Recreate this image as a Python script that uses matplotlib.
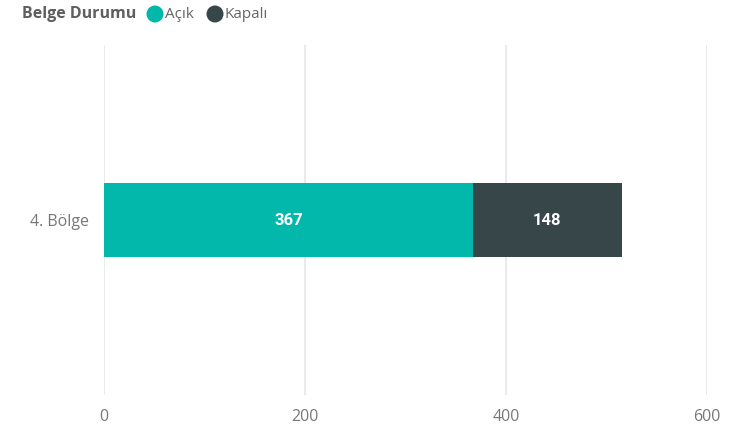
import matplotlib.pyplot as plt
from matplotlib.patches import Ellipse

# Belge durumu verisi
kategoriler = ["4. Bölge"]
acik = [367]
kapali = [148]
seriler = ["Açık", "Kapalı"]
renkler = ["#01B8AA", "#374649"]
x_ticks = [0, 200, 400, 600]

plt.rcParams['font.family'] = ['Open Sans', 'DejaVu Sans']

W, H = 739, 426
fig = plt.figure(figsize=(W / 100, H / 100), dpi=100)
ax = fig.add_axes([104 / W, 31 / H, 603 / W, 350 / H])

y = list(range(len(kategoriler)))
b1 = ax.barh(y, acik, height=0.21, color=renkler[0])
b2 = ax.barh(y, kapali, left=acik, height=0.21, color=renkler[1])

for bars, vals, lefts in [(b1, acik, [0] * len(acik)), (b2, kapali, acik)]:
    for rect, v, l in zip(bars, vals, lefts):
        ax.text(l + v / 2, rect.get_y() + rect.get_height() / 2, str(v),
                ha='center', va='center', color='white', fontsize=12,
                fontweight='bold', family=['Roboto', 'DejaVu Sans'])

ax.set_xlim(0, 600)
ax.set_ylim(-0.5, 0.5)
ax.set_xticks(x_ticks)
ax.set_yticks(y)
ax.set_yticklabels(kategoriler)
ax.tick_params(axis='both', length=0, colors='#777777', labelsize=11.5)
ax.tick_params(axis='x', pad=10)
ax.tick_params(axis='y', pad=11)
ax.grid(axis='x', color='#E8E8E8', linewidth=1.3)
ax.set_axisbelow(True)
for s in ax.spines.values():
    s.set_visible(False)

# lejant
ly = 1 - 14 / H
fig.text(22 / W, ly, "Belge Durumu", ha='left', va='center',
         fontsize=11.5, fontweight='bold', color='#5f5f5f')
for cx, tx, lab, c in [(155, 165, seriler[0], renkler[0]), (215, 225, seriler[1], renkler[1])]:
    fig.patches.append(Ellipse((cx / W, ly), 17 / W, 17 / H, transform=fig.transFigure,
                               facecolor=c, edgecolor='none'))
    fig.text(tx / W, ly, lab, ha='left', va='center', fontsize=11, color='#666666')

fig.savefig("out.png", dpi=100)
